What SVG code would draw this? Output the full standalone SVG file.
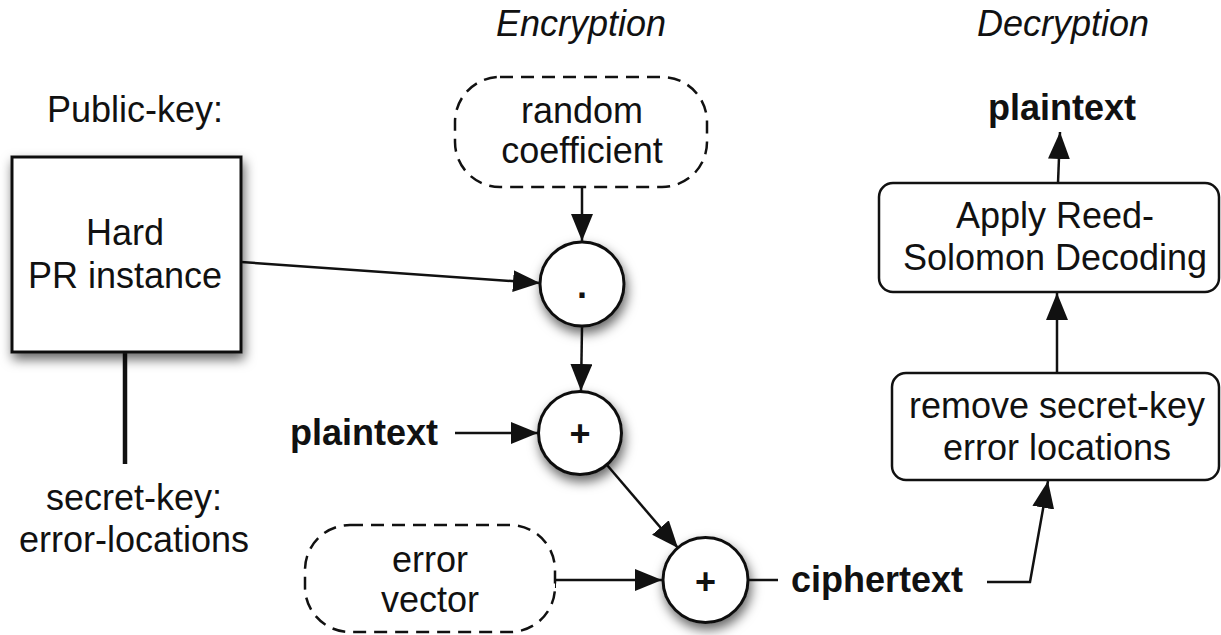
<svg xmlns="http://www.w3.org/2000/svg" width="1221" height="635" viewBox="0 0 1221 635">
<style>
text{font-family:"Liberation Sans",Arial,sans-serif;font-size:36px;fill:#111;text-anchor:middle}
.b{font-weight:bold}
.i{font-style:italic}
.box{fill:#fff;stroke:#111;stroke-width:3}
.rbox{fill:#fff;stroke:#111;stroke-width:2.5}
.dash{fill:#fff;stroke:#111;stroke-width:2.5;stroke-dasharray:13 8}
.op{fill:#fff;stroke:#111;stroke-width:3}
.c{fill:none;stroke:#111;stroke-width:2.5}
</style>
<defs>
<filter id="sh" x="-30%" y="-30%" width="160%" height="170%">
<feDropShadow dx="2" dy="6" stdDeviation="6" flood-color="#000" flood-opacity="0.6"/>
</filter>
<marker id="ah" markerUnits="userSpaceOnUse" markerWidth="30" markerHeight="24" refX="27" refY="11" orient="auto">
<path d="M0,0 L27,11 L0,22 Z" fill="#111"/>
</marker>
<marker id="bar" markerUnits="userSpaceOnUse" markerWidth="4" markerHeight="16" refX="1.5" refY="8" orient="auto">
<path d="M1.5,0 L1.5,16" stroke="#111" stroke-width="2"/>
</marker>
</defs>
<rect width="1221" height="635" fill="#fff"/>

<text class="i" x="581" y="36">Encryption</text>
<text class="i" x="1063" y="36">Decryption</text>

<g id="connectors">
<line class="c" x1="241" y1="262" x2="540" y2="283" marker-end="url(#ah)"/>
<line class="c" x1="582" y1="187" x2="582" y2="241" marker-end="url(#ah)"/>
<line class="c" x1="582" y1="327" x2="581" y2="391" marker-end="url(#ah)"/>
<line class="c" x1="455" y1="433" x2="538" y2="433" marker-end="url(#ah)"/>
<line class="c" x1="607" y1="465" x2="678" y2="548" marker-end="url(#ah)"/>
<line class="c" x1="555" y1="580" x2="662" y2="580" marker-start="url(#bar)" marker-end="url(#ah)"/>
<line class="c" x1="748" y1="580" x2="778" y2="580"/>
<polyline class="c" points="987,582 1030,582 1048,481" marker-end="url(#ah)"/>
<line class="c" x1="1057" y1="373" x2="1057" y2="293" marker-end="url(#ah)"/>
<line class="c" x1="1058" y1="183" x2="1060" y2="132" marker-end="url(#ah)"/>
<line x1="125" y1="352" x2="125" y2="464" stroke="#111" stroke-width="4.5"/>
</g>

<g id="public-key">
<text x="135" y="122">Public-key:</text>
</g>
<g id="hard-pr">
<rect class="box" x="12" y="157" width="229" height="195" filter="url(#sh)"/>
<text x="125" y="245">Hard</text>
<text x="125" y="288">PR instance</text>
</g>
<g id="secret-key">
<text x="134" y="510">secret-key:</text>
<text x="134" y="552">error-locations</text>
</g>
<g id="random-coefficient">
<rect class="dash" x="455" y="77" width="252" height="110" rx="45"/>
<text x="582" y="123">random</text>
<text x="582" y="163">coefficient</text>
</g>
<g id="mult">
<circle class="op" cx="582" cy="284" r="42" filter="url(#sh)"/>
<text class="b" x="582" y="298">.</text>
</g>
<g id="plaintext-in">
<text class="b" x="364" y="445">plaintext</text>
</g>
<g id="plus1">
<circle class="op" cx="580" cy="433" r="41.5" filter="url(#sh)"/>
<text class="b" x="580" y="446">+</text>
</g>
<g id="error-vector">
<rect class="dash" x="305" y="525" width="250" height="107" rx="45"/>
<text x="430" y="572">error</text>
<text x="430" y="612">vector</text>
</g>
<g id="plus2">
<circle class="op" cx="705.5" cy="580" r="42.5" filter="url(#sh)"/>
<text class="b" x="705.5" y="594">+</text>
</g>
<g id="ciphertext">
<text class="b" x="877" y="592">ciphertext</text>
</g>
<g id="remove">
<rect class="rbox" x="892" y="373" width="327" height="107" rx="14"/>
<text x="1057" y="418">remove secret-key</text>
<text x="1057" y="460">error locations</text>
</g>
<g id="decode">
<rect class="rbox" x="879" y="183" width="340" height="109" rx="14"/>
<text x="1055" y="228">Apply Reed-</text>
<text x="1055" y="270">Solomon Decoding</text>
</g>
<g id="plaintext-out">
<text class="b" x="1062" y="120">plaintext</text>
</g>
</svg>
